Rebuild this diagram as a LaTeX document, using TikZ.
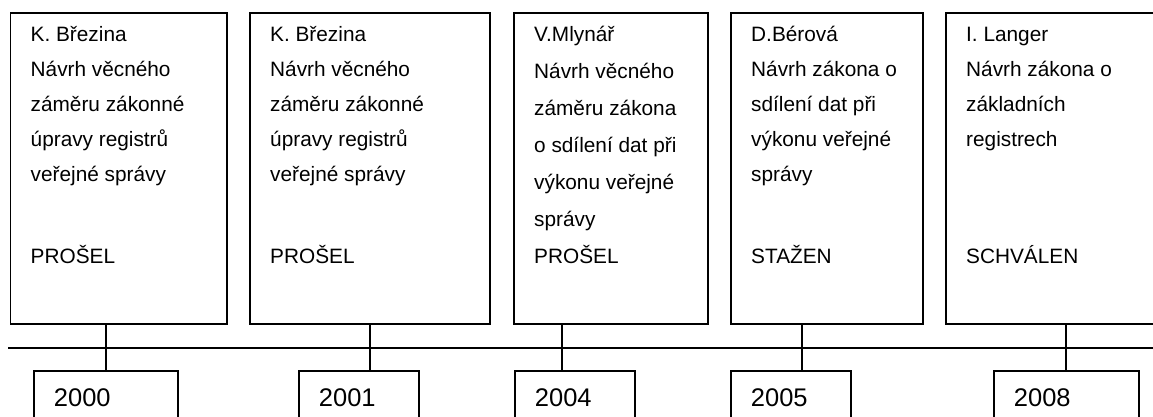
\documentclass[tikz,border=0pt]{standalone}
\usepackage{fontspec}
\setmainfont{Liberation Sans}
\usepackage{tikz}
\tikzset{
    entry-box/.style = {draw=black, line width=1.8pt, rectangle, inner sep=0pt, anchor=north west},
    entry-text/.style = {anchor=base west, inner sep=0pt, font=\fontsize{20.8}{35}\selectfont},
    year-box/.style = {draw=black, line width=1.8pt, rectangle, anchor=base west, inner xsep=20pt, inner ysep=0pt,
        text height=35pt, text depth=30pt, align=left, font=\fontsize{25.5}{30}\selectfont},
    link/.style = {draw=black, line width=1.8pt},
}

\begin{document}
\begin{tikzpicture}[x=1pt, y=-1pt]
\useasboundingbox (0,0) rectangle (1153,416);
\clip (0,0) rectangle (1153,416);

% proposals
\node [entry-box, minimum width=216.5pt, minimum height=311pt] (b1) at (9.5,12) {};
\node [entry-box, minimum width=240pt, minimum height=311pt] (b2) at (249,12) {};
\node [entry-box, minimum width=194pt, minimum height=311pt] (b3) at (513,12) {};
\node [entry-box, minimum width=192pt, minimum height=311pt] (b4) at (730,12) {};
\node [entry-box, minimum width=230pt, minimum height=311pt] (b5) at (945,12) {};

\node [entry-text] (b1-text) at ([xshift=21pt, yshift=-29.7pt]b1.north west) {\parbox[t]{180pt}{\raggedright
    K. Březina\\Návrh věcného\\záměru zákonné\\úpravy registrů\\veřejné správy\\[46.3pt]PROŠEL}};
\node [entry-text] (b2-text) at ([xshift=21pt, yshift=-29.7pt]b2.north west) {\parbox[t]{180pt}{\raggedright
    K. Březina\\Návrh věcného\\záměru zákonné\\úpravy registrů\\veřejné správy\\[46.3pt]PROŠEL}};
\node [entry-text, font=\fontsize{20.8}{36.9}\selectfont] (b3-text) at ([xshift=21pt, yshift=-29.7pt]b3.north west) {\parbox[t]{180pt}{\raggedright
    V.Mlynář\\Návrh věcného\\záměru zákona\\o sdílení dat při\\výkonu veřejné\\správy\\PROŠEL}};
\node [entry-text] (b4-text) at ([xshift=21pt, yshift=-29.7pt]b4.north west) {\parbox[t]{180pt}{\raggedright
    D.Bérová\\Návrh zákona o\\sdílení dat při\\výkonu veřejné\\správy\\[46.3pt]STAŽEN}};
\node [entry-text] (b5-text) at ([xshift=21pt, yshift=-29.7pt]b5.north west) {\parbox[t]{180pt}{\raggedright
    I. Langer\\Návrh zákona o\\základních\\registrech\\[81.3pt]SCHVÁLEN}};

% years
\node [year-box, text width=104pt] (y1) at (33,406) {2000};
\node [year-box, text width=80pt] (y2) at (298,406) {2001};
\node [year-box, text width=80pt] (y3) at (514,406) {2004};
\node [year-box, text width=80pt] (y4) at (730,406) {2005};
\node [year-box, text width=105pt] (y5) at (993,406) {2008};

% timeline
\coordinate (line-start) at (8,348);
\coordinate (line-end) at (1153,348);
\draw [link] (line-start) -- (line-end);

\coordinate (t1) at (106,348);
\coordinate (t2) at (370,348);
\coordinate (t3) at (562,348);
\coordinate (t4) at (802,348);
\coordinate (t5) at (1066,348);
\draw [link] (t1 |- b1.south) -- (t1 |- y1.north);
\draw [link] (t2 |- b2.south) -- (t2 |- y2.north);
\draw [link] (t3 |- b3.south) -- (t3 |- y3.north);
\draw [link] (t4 |- b4.south) -- (t4 |- y4.north);
\draw [link] (t5 |- b5.south) -- (t5 |- y5.north);
\end{tikzpicture}
\end{document}
